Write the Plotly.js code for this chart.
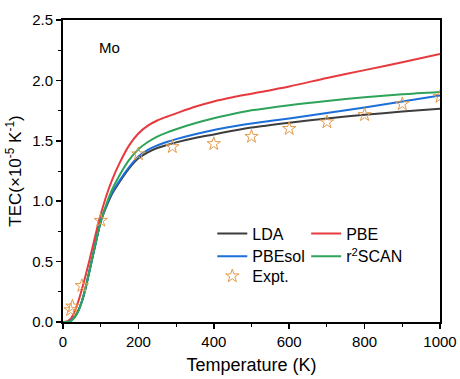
<!DOCTYPE html>
<html>
<head>
<meta charset="utf-8">
<script src="https://cdn.plot.ly/plotly-3.0.1.min.js"></script>
<style>html,body{margin:0;padding:0;background:#fff;}#chart{width:460px;height:379px;}</style>
</head>
<body>
<div id="chart"></div>
<script>
// Temperature grid (K)
const temperature = [0,10,20,30,40,50,60,70,80,90,100,115,130,150,175,200,225,250,275,300,350,400,450,500,600,700,800,900,1000];
const ldaTEC     = [0,0.001,0.01,0.04,0.09,0.17,0.28,0.42,0.56,0.70,0.83,0.955,1.06,1.16,1.27,1.355,1.405,1.44,1.465,1.487,1.523,1.553,1.583,1.61,1.65,1.685,1.715,1.742,1.766];
const pbeTEC     = [0,0.004,0.025,0.08,0.165,0.27,0.385,0.51,0.64,0.77,0.89,1.045,1.175,1.315,1.46,1.56,1.625,1.668,1.699,1.727,1.782,1.826,1.86,1.89,1.95,2.02,2.085,2.15,2.218];
const pbesolTEC  = [0,0.001,0.01,0.04,0.09,0.17,0.28,0.42,0.56,0.70,0.835,0.965,1.07,1.17,1.28,1.37,1.425,1.462,1.49,1.514,1.555,1.59,1.618,1.643,1.685,1.73,1.775,1.825,1.876];
const r2scanTEC  = [0,0.001,0.008,0.035,0.085,0.17,0.29,0.42,0.56,0.70,0.825,0.975,1.095,1.215,1.34,1.43,1.49,1.535,1.568,1.596,1.645,1.687,1.722,1.752,1.795,1.83,1.86,1.885,1.904];
const exptT   = [20,25,50,100,200,290,400,500,600,700,800,900,1000];
const exptTEC = [0.10,0.13,0.30,0.84,1.39,1.45,1.475,1.535,1.60,1.655,1.715,1.805,1.865];

const lineW = 2;
const traces = [
  {x: temperature, y: ldaTEC, name: 'LDA', mode: 'lines', line: {color: '#3d3d3d', width: lineW, shape: 'spline', smoothing: 0.8}, legend: 'legend'},
  {x: temperature, y: pbeTEC, name: 'PBE', mode: 'lines', line: {color: '#e63a3f', width: lineW, shape: 'spline', smoothing: 0.8}, legend: 'legend2'},
  {x: temperature, y: pbesolTEC, name: 'PBEsol', mode: 'lines', line: {color: '#1c6fd8', width: lineW, shape: 'spline', smoothing: 0.8}, legend: 'legend3'},
  {x: temperature, y: r2scanTEC, name: 'r<sup>2</sup>SCAN', mode: 'lines', line: {color: '#2ea35a', width: lineW, shape: 'spline', smoothing: 0.8}, legend: 'legend4'},
  {x: exptT, y: exptTEC, name: 'Expt.', mode: 'markers', marker: {symbol: 'star-open', size: 10, color: '#e39a4b', line: {width: 1, color: '#e39a4b'}}, legend: 'legend5'}
];

const font = {family: 'Liberation Sans, Arial, sans-serif', size: 15, color: '#000'};
function leg(x, y) {
  return {
    orientation: 'v', bgcolor: 'rgba(0,0,0,0)', borderwidth: 0,
    font: {family: font.family, size: 16, color: '#000'},
    tracegroupgap: 0, xanchor: 'left', yanchor: 'top',
    x: x, y: y
  };
}
const col1 = 0.396, col2 = 0.645;

const layout = {
  width: 460, height: 379,
  margin: {l: 62.5, r: 20, t: 20, b: 56.5},
  paper_bgcolor: '#fff', plot_bgcolor: '#fff',
  font: font,
  showlegend: true,
  xaxis: {
    range: [0, 1000], dtick: 200, tick0: 0,
    showgrid: false, zeroline: false,
    showline: true, linecolor: '#000', linewidth: 2, mirror: true,
    ticks: 'outside', ticklen: 5, tickwidth: 1.5, tickcolor: '#000',
    minor: {dtick: 100, ticks: 'outside', ticklen: 3, tickwidth: 1, tickcolor: '#000', showgrid: false},
    tickfont: {size: 15},
    title: {text: 'Temperature (K)', font: {size: 18}, standoff: 9}
  },
  yaxis: {
    range: [0, 2.5], dtick: 0.5, tick0: 0, tickformat: '.1f',
    showgrid: false, zeroline: false,
    showline: true, linecolor: '#000', linewidth: 2, mirror: true,
    ticks: 'outside', ticklen: 5, tickwidth: 1.5, tickcolor: '#000',
    minor: {dtick: 0.25, ticks: 'outside', ticklen: 3, tickwidth: 1, tickcolor: '#000', showgrid: false},
    tickfont: {size: 15},
    title: {text: 'TEC(×10<sup>-5</sup> K<sup>-1</sup>)', font: {size: 17}, standoff: 6}
  },
  legend: leg(col1, 0.349),
  legend2: leg(col2, 0.349),
  legend3: leg(col1, 0.274),
  legend4: leg(col2, 0.274),
  legend5: leg(col1, 0.208),
  annotations: [
    {text: 'Mo', x: 0.09, y: 0.91, xref: 'paper', yref: 'paper', xanchor: 'left', yanchor: 'middle', showarrow: false, font: {size: 15, color: '#000'}}
  ]
};

Plotly.newPlot('chart', traces, layout, {displayModeBar: false, staticPlot: true});
</script>
</body>
</html>
